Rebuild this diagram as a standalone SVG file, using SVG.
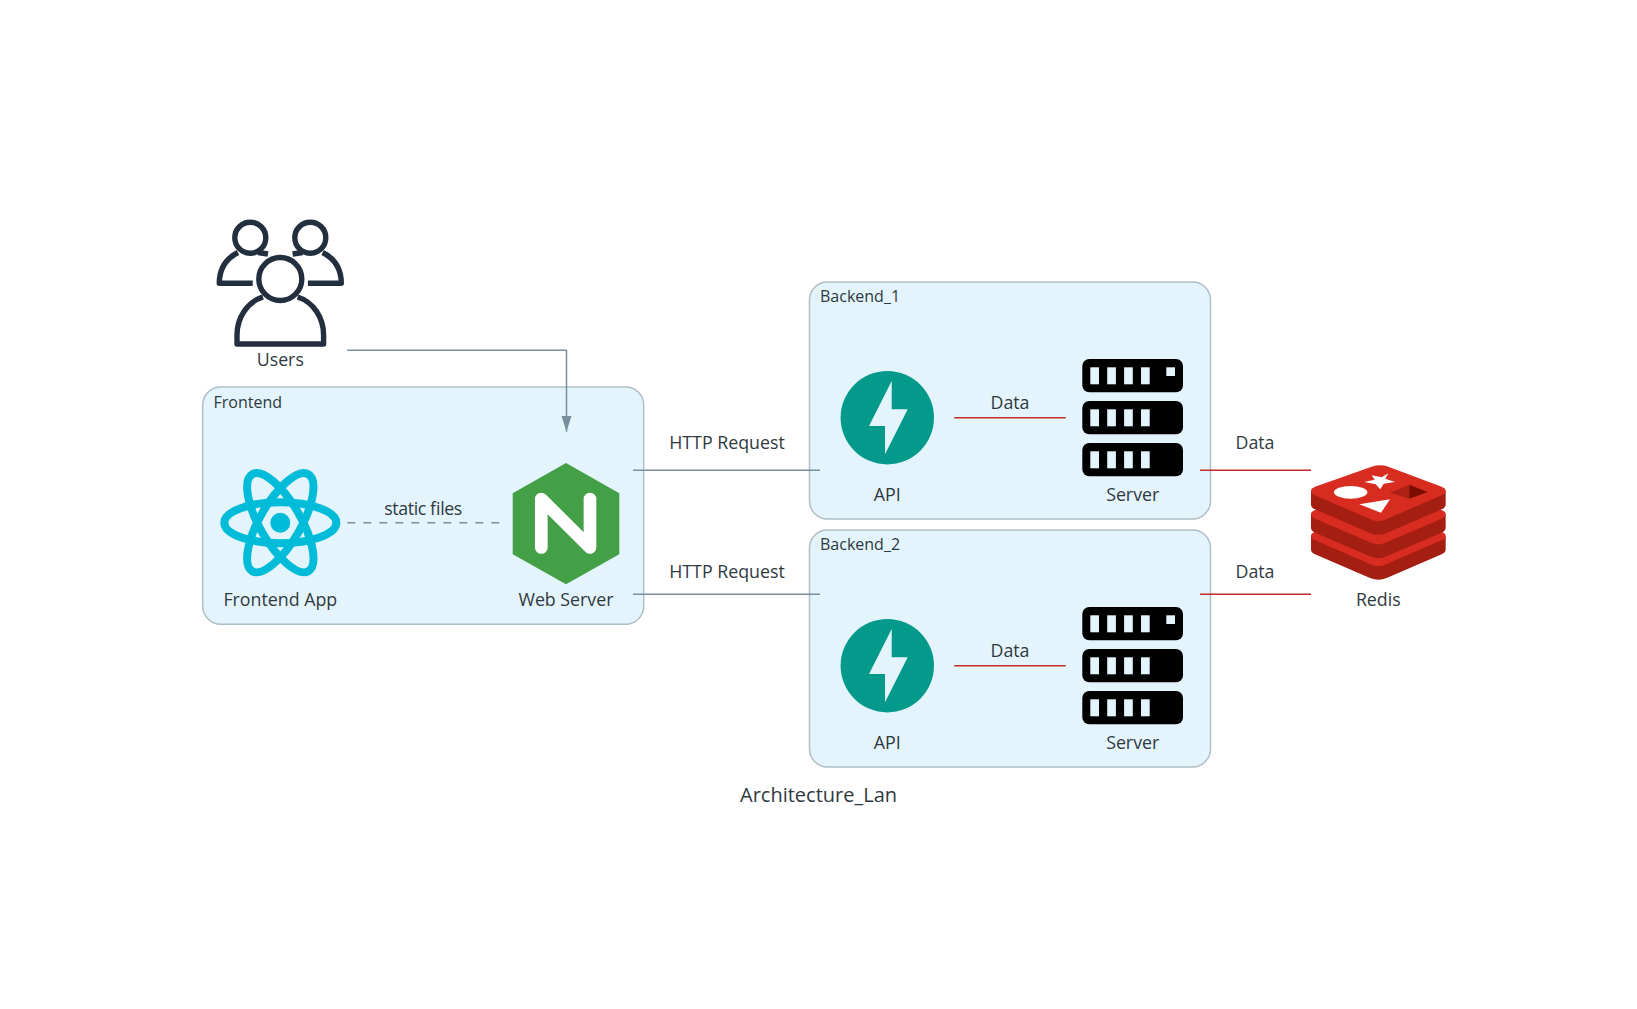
<svg xmlns="http://www.w3.org/2000/svg" xmlns:xlink="http://www.w3.org/1999/xlink" width="1637" height="1009" viewBox="0 0 1637 1009">
<style>
text{font-family:"Open Sans","Noto Sans",sans-serif;fill:#2f3a3f;text-anchor:middle;font-size:17.800px}
.gl{font-size:16px;text-anchor:start}
.box{fill:#e3f4fd;stroke:#b0bec5;stroke-width:1.5}
.grey{fill:none;stroke:#78909c;stroke-width:1.500}
.red{fill:none;stroke:#c62828;stroke-width:1.500}
.srv{fill:#000}.win{fill:#e3f4fd}
.rl{fill:#d82c20}.rd{fill:#a41e11}
.us{fill:none;stroke:#232f3e;stroke-width:5.400;stroke-linejoin:round}
.re{fill:none;stroke:#00bcd9;stroke-width:8}
</style>
<defs>
<marker id="arrow" markerUnits="userSpaceOnUse" markerWidth="16" markerHeight="11" refX="16" refY="5.5" viewBox="0 0 16 11" orient="auto"><path d="M0 0.5L16 5.5L0 10.5z" fill="#78909c"/></marker>
<g id="apiIcon"><circle cx="0" cy="0" r="46.7" fill="#049a8b"/><path d="M4.4-36.7V-8.4H20.4L-2.3 36.6V8.3H-18.3z" fill="#e3f4fd"/></g>
<g id="serverIcon">
<rect class="srv" x="0" y="0" width="100.7" height="33.3" rx="7"/><rect class="srv" x="0" y="42" width="100.7" height="33.3" rx="7"/><rect class="srv" x="0" y="84" width="100.7" height="33.3" rx="7"/>
<g class="win"><rect x="8" y="8.3" width="8.7" height="17"/><rect x="24.9" y="8.3" width="8.7" height="17"/><rect x="41.8" y="8.3" width="8.7" height="17"/><rect x="58.7" y="8.3" width="8.7" height="17"/><rect x="84" y="8.3" width="8.7" height="8.7"/>
<rect x="8" y="50.3" width="8.7" height="17"/><rect x="24.9" y="50.3" width="8.7" height="17"/><rect x="41.8" y="50.3" width="8.7" height="17"/><rect x="58.7" y="50.3" width="8.7" height="17"/>
<rect x="8" y="92.3" width="8.7" height="17"/><rect x="24.9" y="92.3" width="8.7" height="17"/><rect x="41.8" y="92.3" width="8.7" height="17"/><rect x="58.7" y="92.3" width="8.7" height="17"/></g>
</g>
<g id="redisLayer">
<path class="rd" d="M333 212V254Q333 262 345 268L510 339Q535 350 560 339L725 268Q737 262 737 254V212Z"/>
<path class="rl" d="M515 140Q540 132 565 140L725 200Q737 205 737 212Q737 220 725 226L560 297Q535 310 510 297L345 226Q333 220 333 212Q333 205 345 200Z"/>
</g>
</defs>

<g id="group-frontend"><rect class="box" x="202.700" y="387" width="441" height="237.300" rx="18"/><text class="gl" x="213.500" y="407.500">Frontend</text></g>
<g id="group-backend1"><rect class="box" x="809.500" y="282" width="401" height="237" rx="18"/><text class="gl" x="820" y="302">Backend_1</text></g>
<g id="group-backend2"><rect class="box" x="809.500" y="530" width="401" height="237" rx="18"/><text class="gl" x="820" y="550">Backend_2</text></g>

<g id="connectors">
<path class="grey" d="M347.300 350.300H566.500V431.700" marker-end="url(#arrow)"/>
<path class="grey" stroke-dasharray="8 8" d="M347.300 522.700H499.500"/>
<path class="grey" d="M633 470.300H820"/>
<path class="grey" d="M633 594.300H820"/>
<path class="red" d="M954.300 417.700H1065.700"/>
<path class="red" d="M954.300 665.700H1065.700"/>
<path class="red" d="M1200 470.300H1311"/>
<path class="red" d="M1200 594.300H1311"/>
<text x="423.300" y="514.500" textLength="78">static files</text>
<text x="727" y="449">HTTP Request</text>
<text x="727" y="578">HTTP Request</text>
<text x="1010" y="409">Data</text>
<text x="1010" y="657">Data</text>
<text x="1255" y="449">Data</text>
<text x="1255" y="578">Data</text>
</g>

<g id="node-users">
<g class="us">
<circle cx="250.300" cy="237.700" r="15.500"/><circle cx="310.300" cy="237.700" r="15.500"/>
<path d="M252.700 283.300H219.300C219.300 268 227 258 238 252.500M258 252.500L268 254"/>
<path d="M307.900 283.300H341.300C341.300 268 333.600 258 322.600 252.500M302.600 252.500L292.600 254"/>
<circle cx="280.300" cy="279" r="21.500"/>
<path d="M263 297C247 302 237 318 237 335V344H323.600V335C323.600 318 313.600 302 297.600 297"/>
</g>
<text x="280.300" y="365.500">Users</text>
</g>

<g id="node-react">
<g class="re"><ellipse cx="280.300" cy="522.700" rx="56" ry="20.500"/><ellipse cx="280.300" cy="522.700" rx="56" ry="20.500" transform="rotate(60 280.300 522.700)"/><ellipse cx="280.300" cy="522.700" rx="56" ry="20.500" transform="rotate(-60 280.300 522.700)"/></g>
<circle cx="280.300" cy="522.700" r="10" fill="#00bcd9"/>
<text x="280.300" y="606">Frontend App</text>
</g>

<g id="node-nginx">
<path d="M566 463L619.300 493.300V554.300L566 584.300L512.700 554.300V493.300Z" fill="#43a047"/>
<path d="M541.300 547.500V499L590 547.500V499" fill="none" stroke="#fff" stroke-width="12.700" stroke-linecap="round" stroke-linejoin="round"/>
<text x="566" y="606">Web Server</text>
</g>

<g id="node-api1"><use xlink:href="#apiIcon" href="#apiIcon" x="887.300" y="417.700"/><text x="887.300" y="500.500">API</text></g>
<g id="node-server1"><use xlink:href="#serverIcon" href="#serverIcon" x="1082.300" y="359"/><text x="1132.700" y="500.500">Server</text></g>
<g id="node-api2"><use xlink:href="#apiIcon" href="#apiIcon" x="887.300" y="665.700"/><text x="887.300" y="748.500">API</text></g>
<g id="node-server2"><use xlink:href="#serverIcon" href="#serverIcon" x="1082.300" y="607"/><text x="1132.700" y="748.500">Server</text></g>

<g id="node-redis">
<g transform="translate(1200 420) scale(.33333)">
<use xlink:href="#redisLayer" href="#redisLayer" y="135"/>
<use xlink:href="#redisLayer" href="#redisLayer" y="70"/>
<use xlink:href="#redisLayer" href="#redisLayer"/>
<polygon fill="#fff" points="565,160 556,176 585,186 551,191 541,208 527,193 493,186 524,179 515,166 545,172"/>
<ellipse cx="452" cy="217" rx="50" ry="19" fill="#fff"/>
<polygon fill="#fff" points="570,238 543,278 478,253"/>
<polygon fill="#ad2115" points="570,218 628,194 628,236"/>
<polygon fill="#7a0c00" points="628,194 683,216 628,236"/>
</g>
<text x="1378.300" y="605.500">Redis</text>
</g>

<text id="title" x="818.500" y="802" style="font-size:20px">Architecture_Lan</text>
</svg>
